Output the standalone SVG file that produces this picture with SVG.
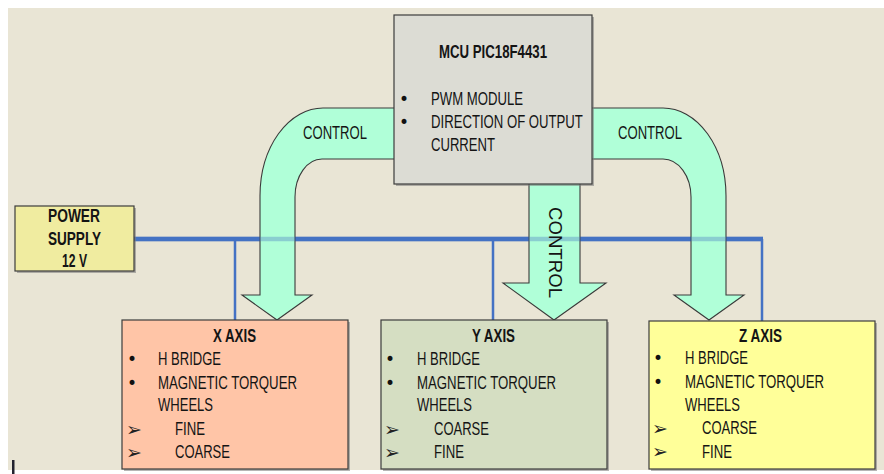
<svg xmlns="http://www.w3.org/2000/svg" width="884" height="474" viewBox="0 0 884 474">
<style>
.t{font-family:"Liberation Sans",Arial,sans-serif;font-size:18px;fill:#141414}
.b{font-weight:bold}
.bul{font-family:"DejaVu Sans",sans-serif;font-size:17px;fill:#111}
.chev{font-family:"DejaVu Sans",sans-serif;font-size:19px;fill:#222}
.box{stroke:#3c3c3c;stroke-width:1.2}
.sh{fill:#7a7a7a;opacity:0.55}
.arrow{fill:#B0FFD8;stroke:#3a3a3a;stroke-width:1.1}
.pw{stroke:#4472C4;fill:none}
</style>
<rect x="0" y="0" width="884" height="474" fill="#ffffff"/>
<rect x="8" y="8" width="876" height="462" fill="#E9E5D5"/>
<rect x="12" y="460" width="2.5" height="14" fill="#22222e"/>

<g id="connectors">
  <path class="pw" stroke-width="4.5" d="M134 239 H763"/>
  <path class="pw" stroke-width="2.5" d="M235 239 V320 M493 239 V320 M762 239 V321"/>
  <path id="arrow-left" class="arrow" d="M396 108 H323 A63 88 0 0 0 260 196 V295 H242 L277 320 L312 295 H295 V197 A27 38 0 0 1 322 159 H396 Z"/>
  <path id="arrow-right" class="arrow" d="M590 108 H663 A63 88 0 0 1 726 196 V295 H744 L709 320 L674 295 H691 V197 A28 38 0 0 0 663 159 H590 Z"/>
  <path id="arrow-mid" class="arrow" d="M529 182 V283 H503 L554 320 L606 283 H580 V182 Z"/>
  <path class="pw" stroke-width="4.5" stroke-opacity="0.35" d="M134 239 H763"/>
  <text class="t" x="303" y="139" textLength="64" lengthAdjust="spacingAndGlyphs">CONTROL</text>
  <text class="t" x="618" y="139" textLength="64" lengthAdjust="spacingAndGlyphs">CONTROL</text>
  <text class="t" transform="translate(549 207) rotate(90)" x="0" y="0" textLength="91" lengthAdjust="spacingAndGlyphs">CONTROL</text>
</g>

<g id="mcu">
  <rect class="sh" x="396" y="17" width="198" height="169"/>
  <rect class="box" x="394" y="15" width="198" height="169" fill="#DCDCD4"/>
  <text class="t b" x="439" y="58" textLength="108" lengthAdjust="spacingAndGlyphs">MCU PIC18F4431</text>
  <text class="bul" x="399" y="105">•</text>
  <text class="bul" x="399" y="128">•</text>
  <text class="t" x="431" y="105" textLength="92" lengthAdjust="spacingAndGlyphs">PWM MODULE</text>
  <text class="t" transform="translate(431 128) scale(0.731 1)" x="0" y="0">DIRECTION OF OUTPUT</text>
  <text class="t" x="431" y="151" textLength="64" lengthAdjust="spacingAndGlyphs">CURRENT</text>
</g>

<g id="power">
  <rect class="sh" x="17" y="208" width="119" height="65"/>
  <rect class="box" x="15" y="206" width="119" height="65" fill="#F0ECA0"/>
  <text class="t b" x="48" y="222" textLength="52" lengthAdjust="spacingAndGlyphs">POWER</text>
  <text class="t b" x="48" y="245" textLength="53" lengthAdjust="spacingAndGlyphs">SUPPLY</text>
  <text class="t b" x="62" y="267" textLength="25" lengthAdjust="spacingAndGlyphs">12 V</text>
</g>

<g id="x-axis">
  <rect class="sh" x="124" y="322" width="226" height="149"/>
  <rect class="box" x="122" y="320" width="226" height="149" fill="#FFC5A7"/>
  <text class="t b" x="213" y="342" textLength="43" lengthAdjust="spacingAndGlyphs">X AXIS</text>
  <text class="bul" x="127" y="365">•</text>
  <text class="bul" x="127" y="389">•</text>
  <text class="chev" x="126" y="436">➢</text>
  <text class="chev" x="126" y="459">➢</text>
  <text class="t" x="158" y="365" textLength="63" lengthAdjust="spacingAndGlyphs">H BRIDGE</text>
  <text class="t" x="158" y="389" textLength="139" lengthAdjust="spacingAndGlyphs">MAGNETIC TORQUER</text>
  <text class="t" x="158" y="411" textLength="55" lengthAdjust="spacingAndGlyphs">WHEELS</text>
  <text class="t" x="175" y="435" textLength="30" lengthAdjust="spacingAndGlyphs">FINE</text>
  <text class="t" x="175" y="458" textLength="55" lengthAdjust="spacingAndGlyphs">COARSE</text>
</g>

<g id="y-axis">
  <rect class="sh" x="383" y="322" width="226" height="149"/>
  <rect class="box" x="381" y="320" width="226" height="149" fill="#D5DEC2"/>
  <text class="t b" x="472" y="342" textLength="43" lengthAdjust="spacingAndGlyphs">Y AXIS</text>
  <text class="bul" x="385" y="365">•</text>
  <text class="bul" x="385" y="389">•</text>
  <text class="chev" x="384" y="436">➢</text>
  <text class="chev" x="384" y="459">➢</text>
  <text class="t" x="417" y="365" textLength="63" lengthAdjust="spacingAndGlyphs">H BRIDGE</text>
  <text class="t" x="417" y="389" textLength="139" lengthAdjust="spacingAndGlyphs">MAGNETIC TORQUER</text>
  <text class="t" x="417" y="411" textLength="55" lengthAdjust="spacingAndGlyphs">WHEELS</text>
  <text class="t" x="434" y="435" textLength="55" lengthAdjust="spacingAndGlyphs">COARSE</text>
  <text class="t" x="434" y="458" textLength="30" lengthAdjust="spacingAndGlyphs">FINE</text>
</g>

<g id="z-axis">
  <rect class="sh" x="651" y="323" width="226" height="148"/>
  <rect class="box" x="649" y="321" width="226" height="148" fill="#FFFF99"/>
  <text class="t b" x="739" y="342" textLength="43" lengthAdjust="spacingAndGlyphs">Z AXIS</text>
  <text class="bul" x="653" y="364">•</text>
  <text class="bul" x="653" y="388">•</text>
  <text class="chev" x="652" y="435">➢</text>
  <text class="chev" x="652" y="458">➢</text>
  <text class="t" x="685" y="364" textLength="63" lengthAdjust="spacingAndGlyphs">H BRIDGE</text>
  <text class="t" x="685" y="388" textLength="139" lengthAdjust="spacingAndGlyphs">MAGNETIC TORQUER</text>
  <text class="t" x="685" y="411" textLength="55" lengthAdjust="spacingAndGlyphs">WHEELS</text>
  <text class="t" x="702" y="434" textLength="55" lengthAdjust="spacingAndGlyphs">COARSE</text>
  <text class="t" x="702" y="458" textLength="30" lengthAdjust="spacingAndGlyphs">FINE</text>
</g>
</svg>
